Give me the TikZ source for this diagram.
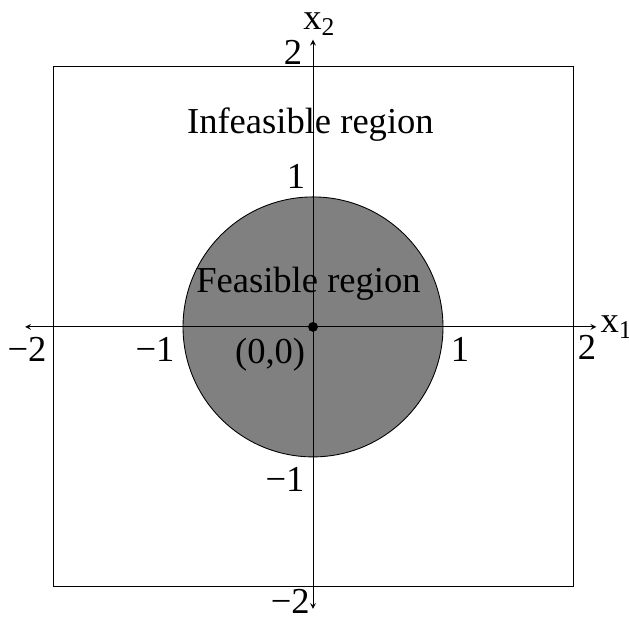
\documentclass[tikz,border=0pt]{standalone}
\usepackage{fontspec}
\setmainfont{Liberation Serif}
\begin{document}
\begin{tikzpicture}[x=2.6cm, y=2.6cm, font=\fontsize{20.8}{24}\selectfont, line width=0.5pt, >=stealth]
  \useasboundingbox (-2.408,-2.246) rectangle (2.431,2.515);
  \draw (-2,-2) rectangle (2,2);
  \draw[fill=black!50] (0,0) circle (1);
  \coordinate (xleft) at (-2.215,0);
  \coordinate (xright) at (2.18,0);
  \coordinate (ydown) at (0,-2.17);
  \coordinate (yup) at (0,2.21);
  \draw[<->] (xleft) -- (xright);
  \draw[<->] (ydown) -- (yup);
  \fill (0,0) circle (0.038);
  \node (xmtwo) at (-2.2,-0.17) {−2};
  \node (xmone) at (-1.215,-0.17) {−1};
  \node (xone) at (1.131,-0.17) {1};
  \node (xtwo) at (2.108,-0.16) {2};
  \node (ytwo) at (-0.154,2.115) {2};
  \node (yone) at (-0.131,1.154) {1};
  \node (ymone) at (-0.215,-1.177) {−1};
  \node[inner sep=0pt] (ymtwo) at (-0.175,-2.115) {−2};
  \node (origin) at (-0.33,-0.215) {(0,0)};
  \node (infeasible) at (-0.02,1.56) {Infeasible region};
  \node (feasible) at (-0.035,0.33) {Feasible region};
  \node[anchor=base west, inner sep=0pt] (xonelabel) at (2.21,-0.046) {x\textsubscript{1}};
  \node[anchor=base west, inner sep=0pt] (xtwolabel) at (-0.077,2.285) {x\textsubscript{2}};
\end{tikzpicture}
\end{document}
